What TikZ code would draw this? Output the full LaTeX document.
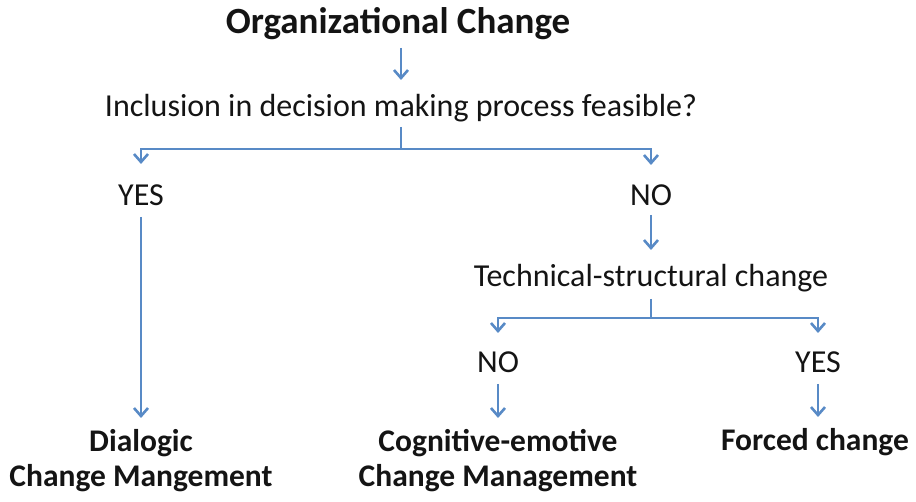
\documentclass[tikz,border=0pt]{standalone}
\usepackage{fontspec}
\setmainfont{Carlito}
\usetikzlibrary{arrows.meta}
\definecolor{arrblue}{RGB}{88,138,198}
\definecolor{txtc}{RGB}{20,20,20}
\begin{document}
\begin{tikzpicture}[x=1pt,y=-1pt,
  txt/.style={inner sep=0pt, text=txtc, font=\fontsize{32}{36}\selectfont},
  btxt/.style={inner sep=0pt, text=txtc, align=center, font=\fontsize{31.5}{35}\selectfont\bfseries},
  conn/.style={draw=arrblue, line width=2.8pt},
  arr/.style={conn, -{Straight Barb[length=8pt,width=14pt,line width=2.6pt]}}]
\useasboundingbox (0,0) rectangle (916,502);
\node[inner sep=0pt, text=txtc, font=\fontsize{37}{42}\selectfont\bfseries] (title) at (398,24) {Organizational Change};
\node[txt] (q1) at (401,108) {Inclusion in decision making process feasible?};
\node[txt] (yes1) at (141,195) {YES};
\node[txt] (no1) at (651,195) {NO};
\node[txt] (tech) at (651,278) {Technical-structural change};
\node[txt] (no2) at (498,362) {NO};
\node[txt] (yes2) at (818,362) {YES};
\node[btxt] (dial) at (141,461) {Dialogic\\Change Mangement};
\node[btxt] (cog) at (498,461) {Cognitive-emotive\\Change Management};
\node[btxt, anchor=base] (forced) at (815,450) {Forced change};
\coordinate (f1) at (401,149);
\coordinate (f2) at (651,318);
% connectors
\draw[arr, shorten <=24pt, shorten >=28pt] (title.center -| q1.center) -- (q1.center);
\draw[conn, shorten <=19pt] (q1.center) -- (f1);
\draw[arr, shorten >=31pt] (f1) -| (yes1.center);
\draw[arr, shorten >=30pt] (f1) -| (no1.center);
\draw[arr, shorten <=22pt, shorten >=43pt] (yes1.center) -- (yes1.center |- dial.center);
\draw[arr, shorten <=20pt, shorten >=28pt] (no1.center) -- (tech.center);
\draw[conn, shorten <=21pt] (tech.center) -- (f2);
\draw[arr, shorten >=29pt] (f2) -| (no2.center);
\draw[arr, shorten >=29pt] (f2) -| (yes2.center);
\draw[arr, shorten <=22pt, shorten >=43pt] (no2.center) -- (cog.center);
\draw[arr, shorten <=22pt, shorten >=44pt] (yes2.center) -- (yes2.center |- dial.center);
\end{tikzpicture}
\end{document}
